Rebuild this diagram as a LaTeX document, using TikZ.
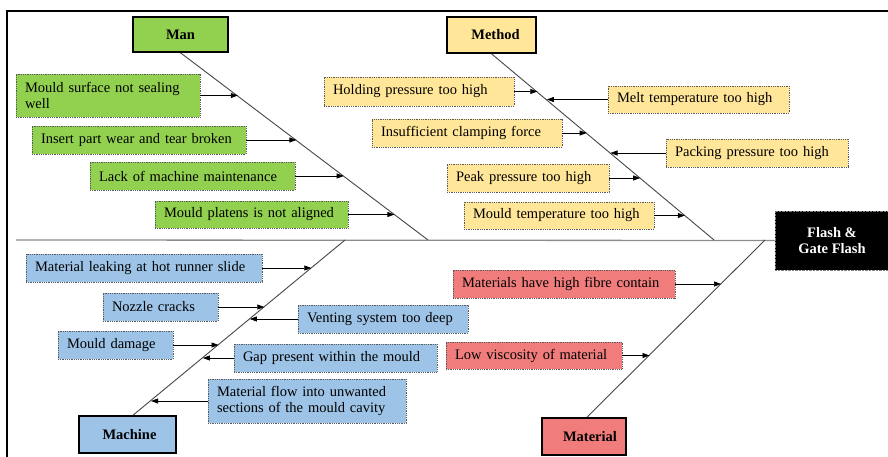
\documentclass[tikz,border=0pt]{standalone}
\usepackage{fontspec}
\setmainfont{Liberation Serif}
\usetikzlibrary{arrows.meta}
\definecolor{mangreen}{RGB}{146,208,80}
\definecolor{methyellow}{RGB}{255,230,153}
\definecolor{machblue}{RGB}{157,195,230}
\definecolor{matred}{RGB}{240,124,124}
\definecolor{dotgray}{RGB}{90,90,90}
\definecolor{bonegray}{RGB}{70,70,70}
\definecolor{spinegray}{RGB}{140,140,140}
\begin{document}
\begin{tikzpicture}[x=1pt,y=-1pt,
  every node/.style={font=\fontsize{14.5}{16.5}\selectfont},
  cat/.style={draw=black, line width=1.6pt, font=\fontsize{14.5}{16.5}\selectfont\bfseries, inner sep=0pt},
  cause/.style={draw=dotgray, densely dotted, line width=0.8pt, inner xsep=9pt, inner ysep=0pt, align=left},
  bone/.style={draw=bonegray, line width=0.9pt},
  spine/.style={draw=spinegray, line width=1.3pt},
  arr/.style={draw=black, line width=0.7pt, -{Triangle[length=7pt,width=5pt]}},
  frame/.style={draw=black, line width=2.8pt},
]
\useasboundingbox (0,0) rectangle (888,457);

% frame
\draw[frame] (7,457) -- (7,11) -- (888,11);

% effect and spine
\node[fill=black, draw=gray, densely dotted, text=white, font=\fontsize{14.5}{16.5}\selectfont\bfseries,
      minimum width=114pt, minimum height=59pt, align=center, inner sep=0pt] (effect) at (832,240.5) {Flash \&\\Gate Flash};
\coordinate (spinestart) at (16,240);
\draw[spine] (spinestart) -- (effect.west);

% categories
\node[cat, fill=mangreen, minimum width=95pt, minimum height=35pt] (man) at (180.5,34.5) {Man};
\node[cat, fill=methyellow, minimum width=89pt, minimum height=36pt] (method) at (491.5,35) {\hspace*{8pt}Method};
\node[cat, fill=machblue, minimum width=97pt, minimum height=37pt] (machine) at (127.5,434.5) {\hspace*{4pt}Machine};
\node[cat, fill=matred, minimum width=84pt, minimum height=37pt] (material) at (584,436.5) {\hspace*{12pt}Material};

% bones
\coordinate (manend) at (428,240);
\coordinate (methodend) at (714,240);
\coordinate (machineend) at (345,240);
\coordinate (materialend) at (765,240);
\draw[bone] (man.south) -- (manend);
\draw[bone] (method.south) -- (methodend);
\draw[bone] ([xshift=5.5pt]machine.north) -- (machineend);
\draw[bone] ([xshift=3pt]material.north) -- (materialend);

% Man causes
\node[cause, fill=mangreen, text width=166pt, minimum height=43pt] (c11) at (108,95.5) {Mould surface not sealing\\well};
\node[cause, fill=mangreen, text width=196pt, minimum height=28pt] (c12) at (139,140) {Insert part wear and tear broken};
\node[cause, fill=mangreen, text width=187pt, minimum height=28pt] (c13) at (192.5,176) {Lack of machine maintenance};
\node[cause, fill=mangreen, text width=175pt, minimum height=27pt] (c14) at (251.5,214.5) {Mould platens is not aligned};
\coordinate (p11) at (237.8,95.5);
\coordinate (p12) at (296.4,140);
\coordinate (p13) at (343.7,176);
\coordinate (p14) at (394.4,214.5);
\draw[arr] (c11) -- (p11);
\draw[arr] (c12) -- (p12);
\draw[arr] (c13) -- (p13);
\draw[arr] (c14) -- (p14);

% Method causes
\node[cause, fill=methyellow, text width=172pt, minimum height=29pt] (d1) at (419,91.5) {Holding pressure too high};
\node[cause, fill=methyellow, text width=163pt, minimum height=27pt] (d2) at (698.5,99.5) {Melt temperature too high};
\node[cause, fill=methyellow, text width=172pt, minimum height=28pt] (d3) at (467,133) {Insufficient clamping force};
\node[cause, fill=methyellow, text width=164pt, minimum height=28pt] (d4) at (757,153) {Packing pressure too high};
\node[cause, fill=methyellow, text width=144pt, minimum height=28pt] (d5) at (528,178) {Peak pressure too high};
\node[cause, fill=methyellow, text width=172pt, minimum height=27pt] (d6) at (559,215.5) {Mould temperature too high};
\coordinate (p21) at (537.3,91.5);
\coordinate (p22) at (546.8,99.5);
\coordinate (p23) at (586.7,133);
\coordinate (p24) at (610.5,153);
\coordinate (p25) at (640.2,178);
\coordinate (p26) at (684.8,215.5);
\draw[arr] (d1) -- (p21);
\draw[arr] (d2) -- (p22);
\draw[arr] (d3) -- (p23);
\draw[arr] (d4) -- (p24);
\draw[arr] (d5) -- (p25);
\draw[arr] (d6) -- (p26);

% Machine causes
\node[cause, fill=machblue, text width=218pt, minimum height=28pt] (e1) at (144,268) {Material leaking at hot runner slide};
\node[cause, fill=machblue, text width=97pt, minimum height=28pt] (e2) at (160.5,307) {Nozzle cracks};
\node[cause, fill=machblue, text width=152pt, minimum height=28pt] (e3) at (383,319) {Venting system too deep};
\node[cause, fill=machblue, text width=97pt, minimum height=28pt] (e4) at (115.5,345) {Mould damage};
\node[cause, fill=machblue, text width=185pt, minimum height=28pt] (e5) at (335.5,358) {Gap present within the mould};
\node[cause, fill=machblue, text width=180pt, minimum height=44pt] (e6) at (307,401) {Material flow into unwanted\\sections of the mould cavity};
\coordinate (p31) at (311.3,268);
\coordinate (p32) at (264.3,307);
\coordinate (p33) at (249.8,319);
\coordinate (p34) at (218.5,345);
\coordinate (p35) at (202.9,358);
\coordinate (p36) at (151.1,401);
\draw[arr] (e1) -- (p31);
\draw[arr] (e2) -- (p32);
\draw[arr] (e3) -- (p33);
\draw[arr] (e4) -- (p34);
\draw[arr] (e5) -- (p35);
\draw[arr] (e6) -- (p36);

% Material causes
\node[cause, fill=matred, text width=204pt, minimum height=28pt] (f1) at (564,284) {Materials have high fibre contain};
\node[cause, fill=matred, text width=158pt, minimum height=27pt] (f2) at (534,355.5) {Low viscosity of material};
\coordinate (p41) at (721,284);
\coordinate (p42) at (649.5,355.5);
\draw[arr] (f1) -- (p41);
\draw[arr] (f2) -- (p42);
\end{tikzpicture}
\end{document}
